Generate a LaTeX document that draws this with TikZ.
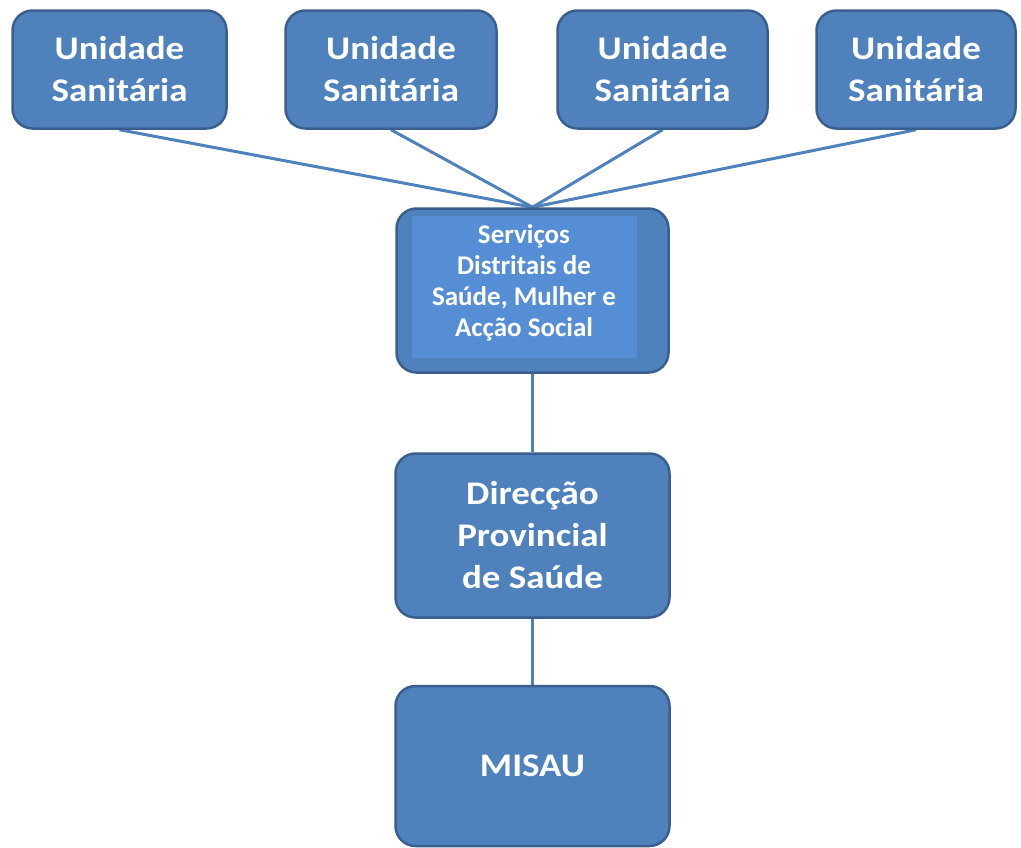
\documentclass[tikz,border=0pt]{standalone}
\usepackage{fontspec}
\setmainfont{Carlito}
\usetikzlibrary{backgrounds}
\definecolor{boxfill}{HTML}{4F81BD}
\definecolor{boxedge}{HTML}{3A5F8E}
\definecolor{innerfill}{HTML}{558ED5}
\newcommand{\wl}[1]{\scalebox{1.12}[1]{#1}}
\tikzset{
  box/.style={draw=boxedge, line width=2.5pt, fill=boxfill, rounded corners=20pt,
    text=white, font=\bfseries\fontsize{33}{42}\selectfont, align=center, inner sep=0pt},
  smalltext/.style={text=white, font=\bfseries\fontsize{27}{31}\selectfont, align=center, inner sep=0pt},
  link/.style={draw=boxfill, line width=3pt}
}
\begin{document}
\begin{tikzpicture}[x=1pt,y=-1pt]
\useasboundingbox (0,0) rectangle (1021,847);
\node[box, minimum width=214pt, minimum height=118pt] (u1) at (119.5,69.5) {\wl{Unidade}\\\wl{Sanitária}};
\node[box, minimum width=211pt, minimum height=118pt] (u2) at (391,69.5) {\wl{Unidade}\\\wl{Sanitária}};
\node[box, minimum width=210pt, minimum height=118pt] (u3) at (662.5,69.5) {\wl{Unidade}\\\wl{Sanitária}};
\node[box, minimum width=199pt, minimum height=118pt] (u4) at (916,69.5) {\wl{Unidade}\\\wl{Sanitária}};
\node[box, minimum width=272pt, minimum height=164pt] (sd) at (532.5,290.5) {};
\node[fill=innerfill, minimum width=225pt, minimum height=142pt, inner sep=0pt] (sdi) at (524.5,287) {};
\node[smalltext] (sdt) at (524,283) {Serviços\\Distritais de\\Saúde, Mulher e\\Acção Social};
\node[box, minimum width=274pt, minimum height=164pt] (dp) at (532.5,535.5) {\wl{Direcção}\\\wl{Provincial}\\\wl{de Saúde}};
\node[box, minimum width=274pt, minimum height=160pt] (mi) at (532.5,766) {\wl{MISAU}};
\begin{scope}[on background layer]
  \draw[link] (u1.south) -- (sd.north);
  \draw[link] (u2.south) -- (sd.north);
  \draw[link] (u3.south) -- (sd.north);
  \draw[link] (u4.south) -- (sd.north);
  \draw[link] (sd.south) -- (dp.north);
  \draw[link] (dp.south) -- (mi.north);
\end{scope}
\end{tikzpicture}
\end{document}
